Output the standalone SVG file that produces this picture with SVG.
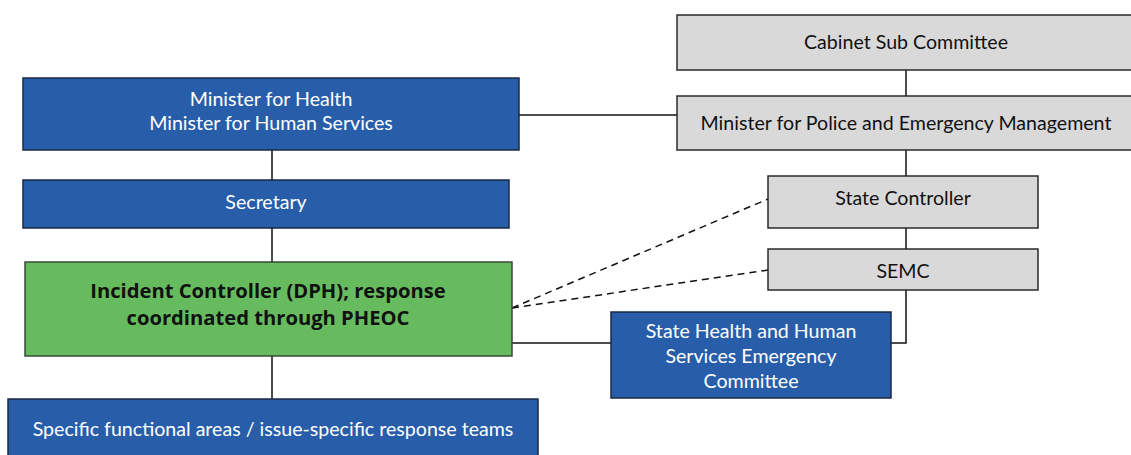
<svg xmlns="http://www.w3.org/2000/svg" width="1131" height="455" viewBox="0 0 1131 455">
  <style>
    .blue { fill: #285ea9; stroke: #1b2a44; stroke-width: 1.5; }
    .grey { fill: #d9d9d9; stroke: #2a2a2a; stroke-width: 1.5; }
    .green { fill: #66bb5f; stroke: #3a4a3a; stroke-width: 1.5; }
    text { font-family: "Lato", "Liberation Sans", sans-serif; font-size: 19.6px; text-anchor: middle; dominant-baseline: central; }
    .w { fill: #ffffff; }
    .k { fill: #111111; }
    .b { font-family: "Open Sans", "Liberation Sans", sans-serif; font-size: 20.2px; font-weight: bold; fill: #111111; }
    .line { fill: none; stroke: #111111; stroke-width: 1.5; }
    .dash { fill: none; stroke: #111111; stroke-width: 1.5; stroke-dasharray: 7 5; }
  </style>

  <g id="connectors">
    <line class="line" x1="519" y1="115" x2="677" y2="115"/>
    <line class="line" x1="906" y1="70" x2="906" y2="96"/>
    <line class="line" x1="906" y1="150" x2="906" y2="176"/>
    <line class="line" x1="906" y1="228" x2="906" y2="249"/>
    <polyline class="line" points="906,290 906,343 891,343"/>
    <line class="line" x1="512" y1="343" x2="611" y2="343"/>
    <line class="line" x1="272" y1="150" x2="272" y2="180"/>
    <line class="line" x1="272" y1="228" x2="272" y2="262"/>
    <line class="line" x1="272" y1="356" x2="272" y2="399"/>
    <line class="dash" x1="512" y1="308" x2="768" y2="199"/>
    <line class="dash" x1="512" y1="308" x2="768" y2="270"/>
  </g>

  <g id="cabinet-sub-committee">
    <rect class="grey" x="677" y="15" width="456" height="55"/>
    <text class="k" x="906" y="41">Cabinet Sub Committee</text>
  </g>

  <g id="minister-police">
    <rect class="grey" x="677" y="96" width="456" height="54"/>
    <text class="k" x="906" y="122">Minister for Police and Emergency Management</text>
  </g>

  <g id="minister-health">
    <rect class="blue" x="23" y="78" width="496" height="72"/>
    <text class="w" x="271" y="98">Minister for Health</text>
    <text class="w" x="271" y="122">Minister for Human Services</text>
  </g>

  <g id="secretary">
    <rect class="blue" x="23" y="180" width="486" height="48"/>
    <text class="w" x="266" y="201">Secretary</text>
  </g>

  <g id="incident-controller">
    <rect class="green" x="25" y="262" width="487" height="94"/>
    <text class="b" x="268" y="290">Incident Controller (DPH); response</text>
    <text class="b" x="268" y="317">coordinated through PHEOC</text>
  </g>

  <g id="functional-areas">
    <rect class="blue" x="8" y="399" width="530" height="60"/>
    <text class="w" x="273" y="428">Specific functional areas / issue-specific response teams</text>
  </g>

  <g id="state-controller">
    <rect class="grey" x="768" y="176" width="270" height="52"/>
    <text class="k" x="903" y="197">State Controller</text>
  </g>

  <g id="semc">
    <rect class="grey" x="768" y="249" width="270" height="41"/>
    <text class="k" x="903" y="270">SEMC</text>
  </g>

  <g id="state-health-committee">
    <rect class="blue" x="611" y="312" width="280" height="86"/>
    <text class="w" x="751" y="330">State Health and Human</text>
    <text class="w" x="751" y="355">Services Emergency</text>
    <text class="w" x="751" y="380">Committee</text>
  </g>
</svg>
